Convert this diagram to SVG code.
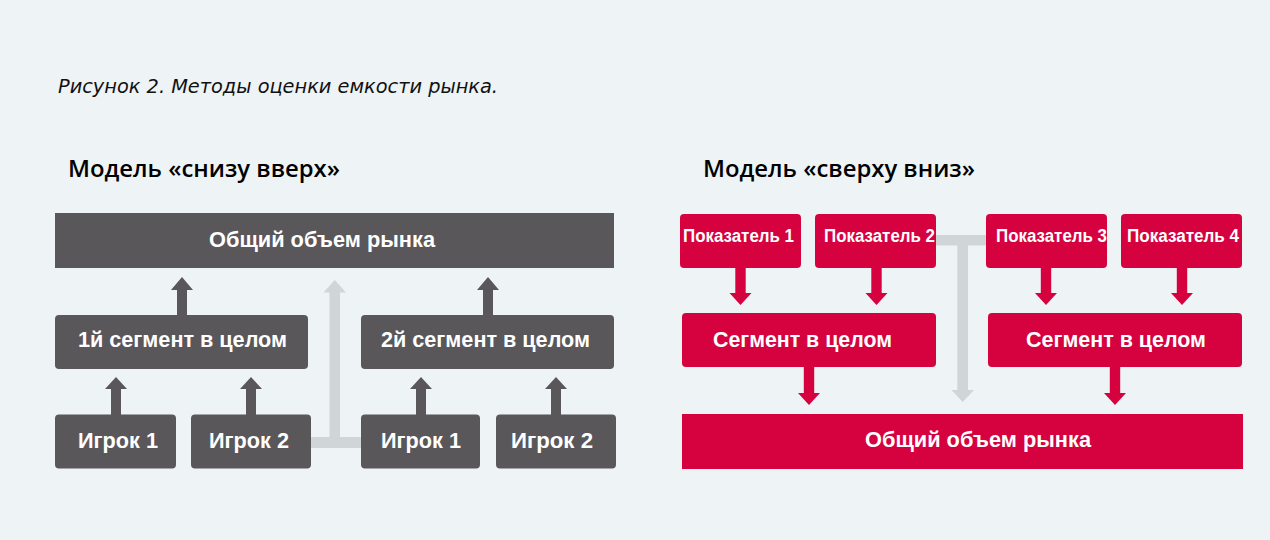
<svg xmlns="http://www.w3.org/2000/svg" width="1270" height="540" viewBox="0 0 1270 540">
<style>
.bg{fill:#eef3f6}
.g{fill:#5a575b}
.r{fill:#d5023f}
.lg{fill:#d0d5d8}
.t{font-family:"Liberation Sans",Arial,sans-serif;font-weight:bold;fill:#ffffff;text-anchor:middle}
.big{font-size:21.5px}
.sm{font-size:18px;text-anchor:start}
.cap{font-family:"DejaVu Sans","Liberation Sans",sans-serif;font-style:italic;font-size:19px;fill:#111111}
.hd{font-family:"Open Sans","Liberation Sans",sans-serif;font-weight:600;font-size:23px;fill:#000000}
</style>
<rect class="bg" x="0" y="0" width="1270" height="540"/>
<text class="cap" x="58" y="93" textLength="440" lengthAdjust="spacingAndGlyphs">Рисунок 2. Методы оценки емкости рынка.</text>
<text class="hd" x="68" y="177" textLength="272" lengthAdjust="spacingAndGlyphs">Модель «снизу вверх»</text>
<text class="hd" x="703" y="177" textLength="272" lengthAdjust="spacingAndGlyphs">Модель «сверху вниз»</text>

<g id="connectors">
  <rect class="lg" x="310" y="437" width="52" height="11"/>
  <path class="lg" d="M329.5,442 V292.5 H323.5 L334.8,280 L346,292.5 H340 V442 Z"/>
  <path class="g" d="M177,316 V290 H171 L182,277 L193,290 H187 V316 Z"/>
  <path class="g" d="M483,316 V290 H477 L488,277 L499,290 H493 V316 Z"/>
  <path class="g" d="M111,415 V389 H105 L116,377 L127,389 H121 V415 Z"/>
  <path class="g" d="M246,415 V389 H240 L251,377 L262,389 H256 V415 Z"/>
  <path class="g" d="M416,415 V389 H410 L421,377 L432,389 H426 V415 Z"/>
  <path class="g" d="M551,415 V389 H545 L556,377 L567,389 H561 V415 Z"/>
  <rect class="lg" x="934" y="235" width="54" height="10.5"/>
  <path class="lg" d="M957.3,240 V390 H951.5 L962.7,402 L974,390 H968 V240 Z"/>
  <path class="r" d="M735.3,266 V293 H729.5 L740.5,305 L751.5,293 H745.7 V266 Z"/>
  <path class="r" d="M871.3,266 V293 H865.5 L876.5,305 L887.5,293 H881.7 V266 Z"/>
  <path class="r" d="M1040.8,266 V293 H1035 L1046,305 L1057,293 H1051.2 V266 Z"/>
  <path class="r" d="M1176.8,266 V293 H1171 L1182,305 L1193,293 H1187.2 V266 Z"/>
  <path class="r" d="M803.8,366 V393 H798 L809,405 L820,393 H814.2 V366 Z"/>
  <path class="r" d="M1109.8,366 V393 H1104 L1115,405 L1126,393 H1120.2 V366 Z"/>
</g>

<g id="l-total">
  <rect class="g" x="55" y="213" width="559" height="55"/>
  <text class="t big" x="322" y="247" textLength="226" lengthAdjust="spacingAndGlyphs">Общий объем рынка</text>
</g>
<g id="l-seg1">
  <rect class="g" x="55" y="315" width="253" height="54" rx="4"/>
  <text class="t big" x="182.5" y="347" textLength="209" lengthAdjust="spacingAndGlyphs">1й сегмент в целом</text>
</g>
<g id="l-seg2">
  <rect class="g" x="361" y="315" width="253" height="54" rx="4"/>
  <text class="t big" x="485.5" y="347" textLength="209" lengthAdjust="spacingAndGlyphs">2й сегмент в целом</text>
</g>
<g id="l-p1">
  <rect class="g" x="55" y="414.5" width="121" height="54" rx="4"/>
  <text class="t big" x="118" y="448" textLength="80" lengthAdjust="spacingAndGlyphs">Игрок 1</text>
</g>
<g id="l-p2">
  <rect class="g" x="191" y="414.5" width="120" height="54" rx="4"/>
  <text class="t big" x="249" y="448" textLength="80" lengthAdjust="spacingAndGlyphs">Игрок 2</text>
</g>
<g id="l-p3">
  <rect class="g" x="361" y="414.5" width="119" height="54" rx="4"/>
  <text class="t big" x="421" y="448" textLength="80" lengthAdjust="spacingAndGlyphs">Игрок 1</text>
</g>
<g id="l-p4">
  <rect class="g" x="496" y="414.5" width="120" height="54" rx="4"/>
  <text class="t big" x="552" y="448" textLength="82" lengthAdjust="spacingAndGlyphs">Игрок 2</text>
</g>

<g id="r-k1">
  <rect class="r" x="680" y="214" width="121" height="54" rx="4"/>
  <text class="t sm" x="683" y="242" textLength="111" lengthAdjust="spacingAndGlyphs">Показатель 1</text>
</g>
<g id="r-k2">
  <rect class="r" x="815" y="214" width="121" height="54" rx="4"/>
  <text class="t sm" x="824" y="242" textLength="111" lengthAdjust="spacingAndGlyphs">Показатель 2</text>
</g>
<g id="r-k3">
  <rect class="r" x="986" y="214" width="121" height="54" rx="4"/>
  <text class="t sm" x="996" y="242" textLength="111" lengthAdjust="spacingAndGlyphs">Показатель 3</text>
</g>
<g id="r-k4">
  <rect class="r" x="1121" y="214" width="121" height="54" rx="4"/>
  <text class="t sm" x="1127" y="242" textLength="112" lengthAdjust="spacingAndGlyphs">Показатель 4</text>
</g>
<g id="r-seg1">
  <rect class="r" x="682" y="313" width="254" height="54" rx="4"/>
  <text class="t big" x="802.5" y="347" textLength="179" lengthAdjust="spacingAndGlyphs">Сегмент в целом</text>
</g>
<g id="r-seg2">
  <rect class="r" x="988" y="313" width="254" height="54" rx="4"/>
  <text class="t big" x="1116" y="347" textLength="180" lengthAdjust="spacingAndGlyphs">Сегмент в целом</text>
</g>
<g id="r-total">
  <rect class="r" x="682" y="414" width="561" height="55"/>
  <text class="t big" x="978" y="447" textLength="226" lengthAdjust="spacingAndGlyphs">Общий объем рынка</text>
</g>
</svg>
